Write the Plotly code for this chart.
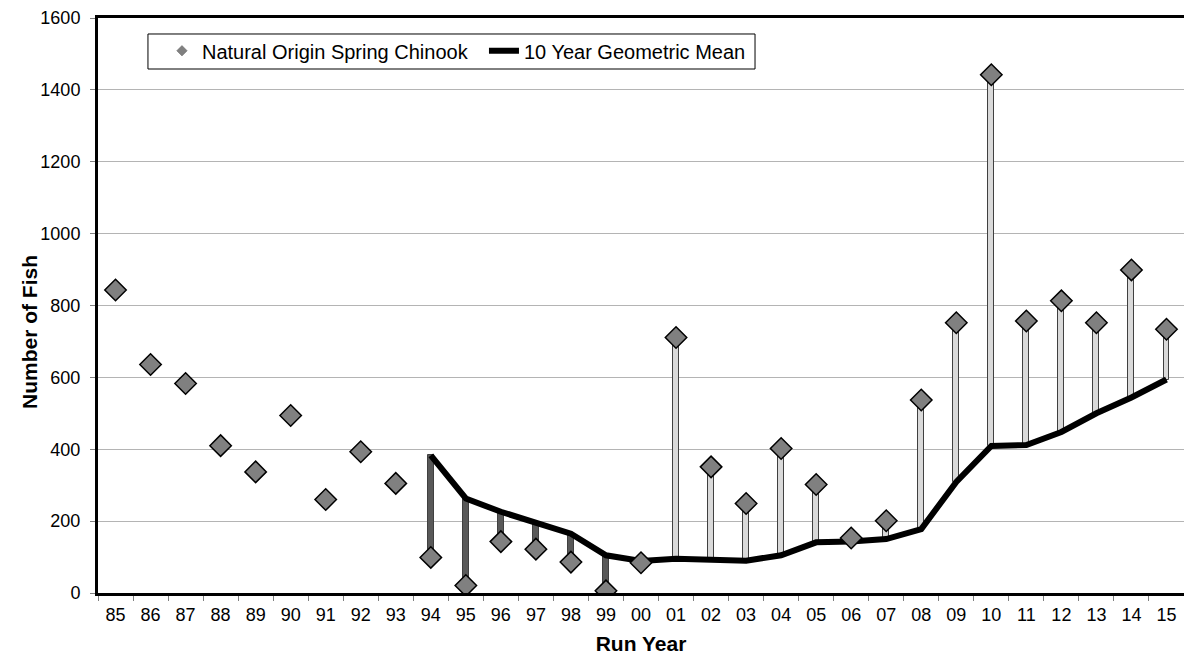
import plotly.graph_objects as go

years = ["85", "86", "87", "88", "89", "90", "91", "92", "93", "94", "95", "96", "97",
         "98", "99", "00", "01", "02", "03", "04", "05", "06", "07", "08", "09", "10",
         "11", "12", "13", "14", "15"]
natural = [843, 636, 583, 410, 337, 494, 260, 393, 305, 99, 21, 143, 122,
           86, 6, 84, 711, 351, 249, 402, 302, 153, 201, 537, 752, 1442,
           757, 813, 752, 899, 734]
geo_mean = [None, None, None, None, None, None, None, None, None, 383, 263, 226, 195,
            165, 105, 89, 95, 93, 90, 105, 141, 143, 150, 178, 309, 409,
            412, 448, 500, 544, 594]
y_ticks = [0, 200, 400, 600, 800, 1000, 1200, 1400, 1600]

# up/down bars between the annual value and the 10-year mean
bar_x, bar_base, bar_len, bar_col = [], [], [], []
for yr, v, m in zip(years, natural, geo_mean):
    if m is None:
        continue
    bar_x.append(yr)
    bar_base.append(min(v, m))
    bar_len.append(abs(v - m))
    bar_col.append("#d9d9d9" if v >= m else "#595959")

fig = go.Figure()
fig.add_trace(go.Bar(
    x=bar_x, y=bar_len, base=bar_base, width=0.17,
    marker=dict(color=bar_col, line=dict(color="#404040", width=1)),
    showlegend=False, hoverinfo="skip"))
fig.add_trace(go.Scatter(
    x=years, y=geo_mean, mode="lines", name="10 Year Geometric Mean",
    line=dict(color="black", width=6), legendrank=2))
fig.add_trace(go.Scatter(
    x=years, y=natural, mode="markers", name="Natural Origin Spring Chinook",
    marker=dict(symbol="diamond", size=16.5, color="#808080",
                line=dict(color="black", width=1.5)),
    showlegend=False))
# legend proxy with the small legend symbol
fig.add_trace(go.Scatter(
    x=[None], y=[None], mode="markers", name="Natural Origin Spring Chinook",
    marker=dict(symbol="diamond", size=8, color="#808080",
                line=dict(color="#606060", width=0.5)),
    legendrank=1))

font_family = "Liberation Sans, Arial, sans-serif"
fig.update_layout(
    width=1184, height=656,
    margin=dict(l=98, r=0, t=18, b=63),
    paper_bgcolor="white", plot_bgcolor="white",
    font=dict(family=font_family, color="black", size=18),
    bargap=0,
    legend=dict(orientation="h", x=0.0589, y=0.977, xanchor="left", yanchor="top",
                bgcolor="rgba(0,0,0,0)", borderwidth=0,
                font=dict(size=20, family=font_family), itemwidth=30,
                entrywidth=277, entrywidthmode="pixels",
                traceorder="normal"),
    shapes=[dict(type="rect", xref="paper", yref="paper",
                 x0=0.046, x1=0.605, y0=0.9113, y1=0.9722,
                 line=dict(color="black", width=1), fillcolor="white", layer="below")],
    annotations=[dict(text="<b>Number of Fish</b>", textangle=-90,
                      xref="paper", yref="paper", x=-0.0626, y=0.454,
                      xanchor="center", yanchor="middle", showarrow=False,
                      font=dict(size=21, family=font_family, color="black"))],
    xaxis=dict(type="category", categoryorder="array", categoryarray=years,
               range=[-0.5, 30.5], showgrid=False,
               showline=True, linecolor="black", linewidth=3, mirror=True,
               ticks="outside", tickson="boundaries", ticklen=5, tickcolor="#808080",
               tickfont=dict(size=18), ticklabelstandoff=3,
               title=dict(text="<b>Run Year</b>", font=dict(size=21), standoff=13)),
    yaxis=dict(range=[0, 1600], tickvals=y_ticks, showgrid=True,
               gridcolor="#b4b4b4", gridwidth=1, zeroline=False,
               showline=True, linecolor="black", linewidth=3,
               ticks="outside", ticklen=5, tickcolor="#808080",
               tickfont=dict(size=18), ticklabelstandoff=6),
)

fig.write_html("out.html", config={"displayModeBar": False},
               post_script="document.body.style.margin='0';")
